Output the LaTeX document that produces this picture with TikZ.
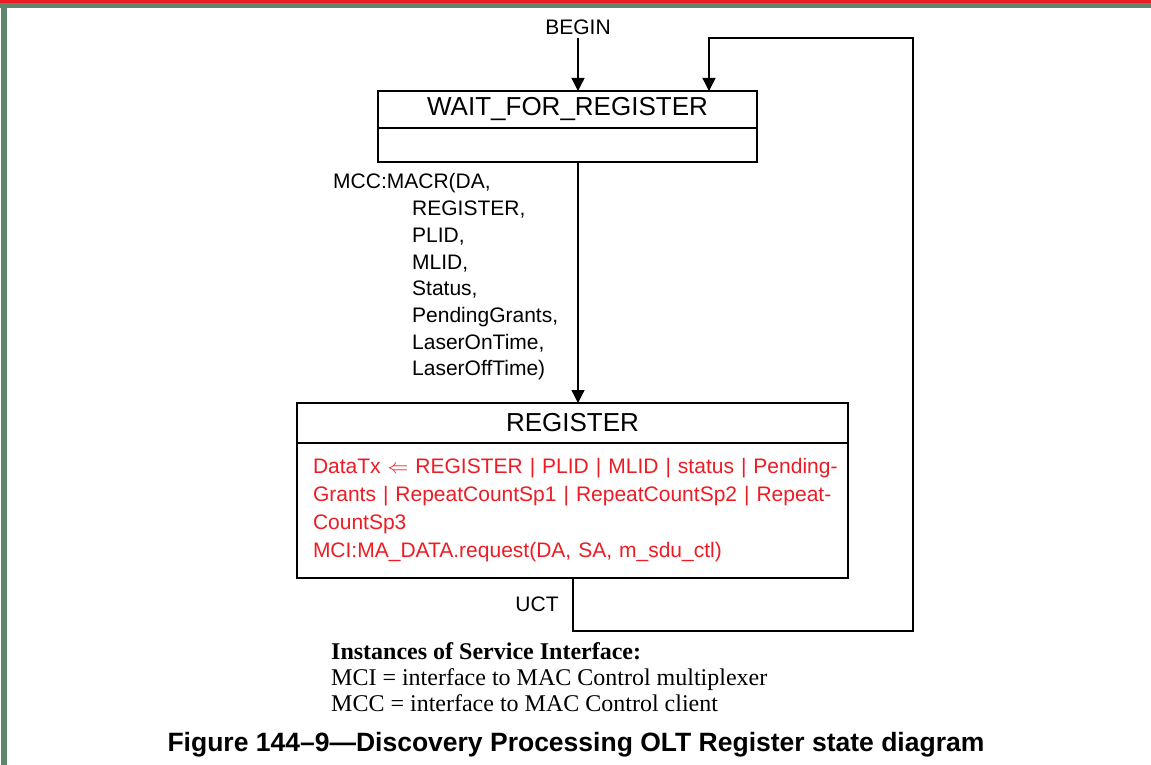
\documentclass[tikz,border=0pt]{standalone}
\usepackage{fontspec}
\setmainfont{Liberation Serif}
\setsansfont{Liberation Sans}
\usepackage{tikz}
\usetikzlibrary{arrows.meta,positioning}
\definecolor{actred}{RGB}{237,28,36}
\definecolor{framegreen}{RGB}{94,134,108}
\newcommand{\statefont}{\sffamily\fontsize{26}{30}\selectfont}
\newcommand{\lblfont}{\sffamily\fontsize{21}{26.7}\selectfont}
\newcommand{\actfont}{\sffamily\fontsize{21}{28}\selectfont}
\tikzset{
    sttitle/.style={rectangle, draw, line width=2.5pt, minimum width=#1,
                    inner sep=0pt, outer sep=0pt, font=\statefont},
    stbody/.style={rectangle, draw, line width=2.5pt, minimum width=#1,
                   inner sep=0pt, outer sep=0pt},
    arr/.style={-{Triangle[length=13pt,width=13pt]}, line width=1.3pt},
    lbl/.style={font=\lblfont, inner sep=3pt},
}
\begin{document}
\begin{tikzpicture}[x=1pt, y=-1pt,
    note/.style={font=\fontsize{24}{26}\selectfont, align=left, inner sep=0pt},
]
    \useasboundingbox (0,0) rectangle (1151,765);
    \fill[actred]     (0,0) rectangle (1151,3);
    \fill[framegreen] (0,3) rectangle (1151,8);
    \fill[framegreen] (1,3) rectangle (7,765);

    \node[sttitle=379pt, minimum height=37pt]                      (wait)    at (567.5,109.5) {WAIT\_FOR\_REGISTER};
    \node[stbody=379pt, minimum height=34pt, below=0pt of wait]    (waitact) {};
    \node[sttitle=551pt, minimum height=40pt]                      (register) at (572.5,423) {REGISTER};
    \node[stbody=551pt, minimum height=135pt, below=0pt of register,
          inner xsep=16pt, text width=519pt, align=left, text=actred, font=\actfont] (registeract)
        {\mbox{DataTx $\Leftarrow$ REGISTER | PLID | MLID | status | Pending-}\\
         \mbox{Grants | RepeatCountSp1 | RepeatCountSp2 | Repeat-}\\
         CountSp3\\
         MCI:MA\_DATA.request(DA, SA, m\_sdu\_ctl)};

    \node[lbl] (begin) at (578,27) {BEGIN};
    \draw[arr] (begin.south) -- (begin.south |- wait.north);
    \draw[arr] (waitact.south -| begin) -- (register.north -| begin);

    \node[lbl, anchor=west, align=left, inner sep=0pt] (macr) at (333,277)
        {MCC:MACR(DA,\\
         \hspace*{79pt}REGISTER,\\
         \hspace*{79pt}PLID,\\
         \hspace*{79pt}MLID,\\
         \hspace*{79pt}Status,\\
         \hspace*{79pt}PendingGrants,\\
         \hspace*{79pt}LaserOnTime,\\
         \hspace*{79pt}LaserOffTime)};

    % UCT loop back to WAIT_FOR_REGISTER
    \coordinate (uctturn)  at (573,631);
    \coordinate (loopturn) at (913,38);
    \draw[arr] (registeract.south -| uctturn) -- (uctturn) -| (loopturn)
               -| ([xshift=141.5pt]wait.north);
    \node[lbl] (uct) at (537,604) {UCT};

    \node[note, anchor=west] (instances) at (331,677)
        {\textbf{Instances of Service Interface:}\\
         MCI = interface to MAC Control multiplexer\\
         MCC = interface to MAC Control client};

    \node[font=\sffamily\bfseries\fontsize{26.5}{30}\selectfont] (caption) at (576,745)
        {Figure 144–9—Discovery Processing OLT Register state diagram};
\end{tikzpicture}
\end{document}
